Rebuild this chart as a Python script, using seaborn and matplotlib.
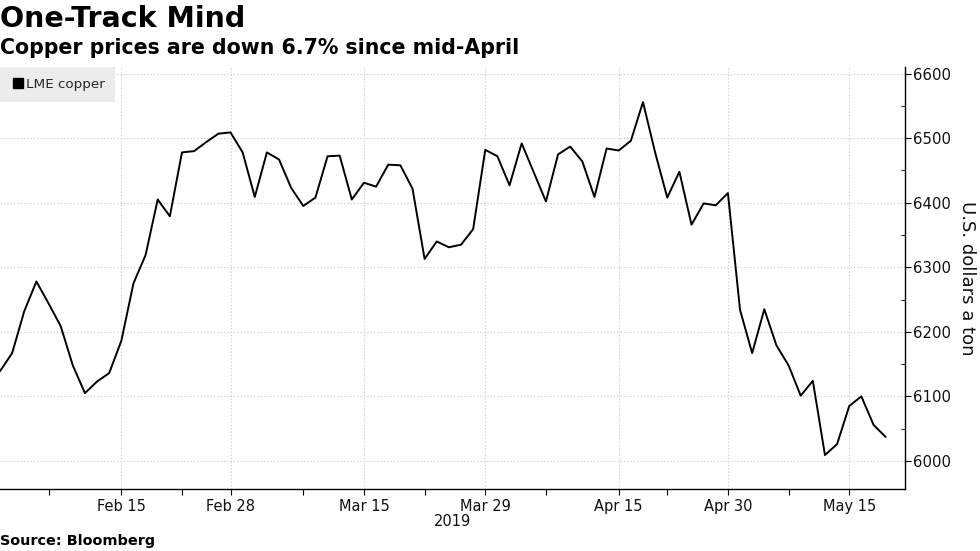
import matplotlib
matplotlib.use("Agg")
import matplotlib.pyplot as plt
from matplotlib.lines import Line2D
from matplotlib.ticker import MultipleLocator, FixedLocator
import seaborn as sns
import pandas as pd
import numpy as np

# ---- data ----
start_date = "2019-02-01"
end_date = "2019-05-20"
lme_holidays = ["2019-04-19", "2019-04-22", "2019-05-06"]
prices = [
    6139, 6167, 6232, 6278, 6244, 6209, 6148, 6105, 6123, 6136,
    6186, 6275, 6319, 6405, 6379, 6478, 6480, 6494, 6507, 6509,
    6478, 6409, 6478, 6467, 6423, 6395, 6408, 6472, 6473, 6405,
    6431, 6425, 6459, 6458, 6422, 6313, 6340, 6331, 6335, 6359,
    6482, 6472, 6427, 6492, 6447, 6402, 6475, 6487, 6464, 6409,
    6484, 6481, 6496, 6556, 6478, 6408, 6448, 6366, 6399, 6396,
    6415, 6234, 6167, 6235, 6179, 6148, 6101, 6124, 6009, 6026,
    6085, 6100, 6056, 6037,
]
tick_dates = ["2019-02-15", "2019-02-28", "2019-03-15", "2019-03-29",
              "2019-04-15", "2019-04-30", "2019-05-15"]
tick_labels = ["Feb 15", "Feb 28", "Mar 15", "Mar 29", "Apr 15", "Apr 30", "May 15"]
minor_tick_dates = ["2019-02-07", "2019-02-22", "2019-03-08", "2019-03-22",
                    "2019-04-05", "2019-04-23", "2019-05-08"]
y_ticks = [6000, 6100, 6200, 6300, 6400, 6500, 6600]
series_name = "LME copper"

# trading days (LME calendar)
days = pd.bdate_range(start_date, end_date)
days = days[~days.isin(pd.to_datetime(lme_holidays))]
pos = {d: i for i, d in enumerate(days)}
df = pd.DataFrame({"day": np.arange(len(days)), "price": prices})

sns.set_theme(style="white")
plt.rcParams["font.family"] = ["DejaVu Sans"]

fig = plt.figure(figsize=(9.8, 5.51), dpi=100)
ax = fig.add_axes([0.0, 0.112, 0.9235, 0.766])

sns.lineplot(data=df, x="day", y="price", ax=ax, color="black",
             linewidth=1.4, legend=False)

ax.set_xlim(0, 74.6)
ax.set_ylim(5956, 6610)

# x ticks
major_x = [pos[pd.Timestamp(d)] for d in tick_dates]
minor_x = [pos[pd.Timestamp(d)] for d in minor_tick_dates]
ax.xaxis.set_major_locator(FixedLocator(major_x))
ax.xaxis.set_minor_locator(FixedLocator(minor_x))
ax.set_xticklabels(tick_labels)
ax.set_xlabel("")

# y ticks on right
ax.yaxis.tick_right()
ax.yaxis.set_label_position("right")
ax.set_yticks(y_ticks)
ax.yaxis.set_minor_locator(MultipleLocator(50))
ax.set_ylabel("U.S. dollars a ton", rotation=270, fontsize=13,
              labelpad=18, color="#111111")

ax.tick_params(axis="x", which="both", direction="out", length=4, width=0.8,
               colors="black", labelsize=10.5, pad=3, bottom=True)
ax.tick_params(axis="x", which="minor", length=4)
ax.tick_params(axis="y", which="major", direction="out", length=4, width=0.8,
               colors="black", labelsize=10.7, pad=2, right=True, left=False)
ax.tick_params(axis="y", which="minor", direction="in", length=3, width=0.8,
               right=True, left=False)
for lab in ax.get_xticklabels() + ax.get_yticklabels():
    lab.set_color("#111111")

ax.grid(True, which="major", color="#d0d0d0", linestyle=(0, (1.2, 1.8)),
        linewidth=0.8)

for s in ["left", "top"]:
    ax.spines[s].set_visible(False)
for s in ["right", "bottom"]:
    ax.spines[s].set_color("black")
    ax.spines[s].set_linewidth(1.0)

handle = Line2D([], [], marker="s", color="black", linestyle="none",
                markersize=6.5)
leg = ax.legend([handle], [series_name], loc="upper left",
                bbox_to_anchor=(0.0, 1.0), borderaxespad=0.0,
                frameon=True, fontsize=9.7, handletextpad=0.1,
                handlelength=1.0, borderpad=0.8, fancybox=False)
leg.get_frame().set_facecolor("#ececec")
leg.get_frame().set_edgecolor("none")
leg.get_frame().set_alpha(1.0)

# titles and notes
fig.text(0.0, 1 - 19 / 551, "One-Track Mind", fontsize=20.5, fontweight="bold",
         va="center", ha="left", color="black")
fig.text(0.0, 1 - 48 / 551, "Copper prices are down 6.7% since mid-April",
         fontsize=14.8, fontweight="bold", va="center", ha="left", color="black")
fig.text(452 / 980, 1 - 521 / 551, "2019", fontsize=10.5, ha="center",
         va="center", color="#111111")
fig.text(0.0, 1 - 541 / 551, "Source: Bloomberg", fontsize=10.4,
         fontweight="bold", ha="left", va="center", color="black")

fig.savefig("out.png", dpi=100)
